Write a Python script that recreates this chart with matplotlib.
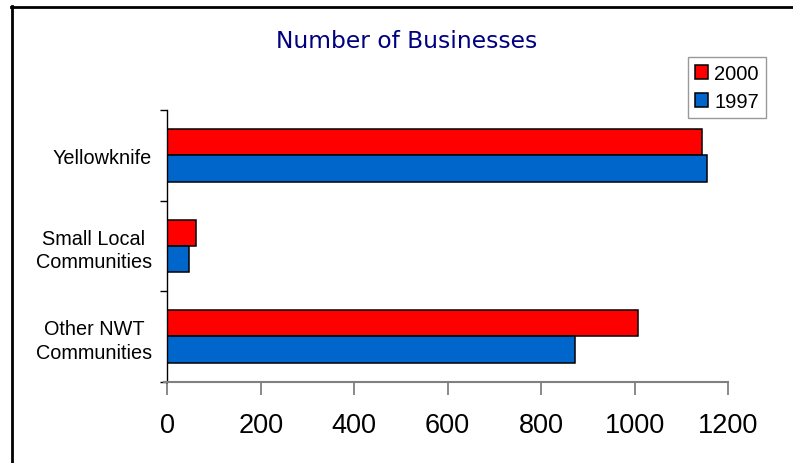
import matplotlib
matplotlib.use('Agg')
import matplotlib.pyplot as plt
from matplotlib import font_manager
from matplotlib.lines import Line2D
import numpy as np

# Data
categories = ['Other NWT\nCommunities', 'Small Local\nCommunities', 'Yellowknife']
values_2000 = [1007, 62, 1144]
values_1997 = [873, 46, 1154]
series_labels = ['2000', '1997']

installed = {f.name for f in font_manager.fontManager.ttflist}
narrow = 'Liberation Sans Narrow' if 'Liberation Sans Narrow' in installed else 'Liberation Sans'
big = narrow != 'Liberation Sans'

W, H = 793, 464
fig = plt.figure(figsize=(W / 100, H / 100), dpi=100)
ax = fig.add_axes([167.3 / W, 1 - 382.7 / H, (728 - 167.3) / W, (382.7 - 111) / H])

y = np.arange(len(categories))
bh = 0.29
ax.barh(y + bh / 2, values_2000, height=bh, color='#FF0000', edgecolor='black',
        linewidth=1.1, label=series_labels[0])
ax.barh(y - bh / 2, values_1997, height=bh, color='#0066CC', edgecolor='black',
        linewidth=1.1, label=series_labels[1])

ax.set_xlim(0, 1200)
ax.set_ylim(-0.5, 2.5)
ax.set_xticks(range(0, 1201, 200))
ax.set_yticks(y)
ax.set_yticklabels(categories, fontfamily=narrow, fontsize=16.5 if big else 14.3,
                   ha='right', multialignment='center', linespacing=1.3)
ax.set_yticks(np.arange(-0.5, 3.0, 1.0), minor=True)

ax.tick_params(axis='y', which='major', length=0, pad=11)
ax.tick_params(axis='y', which='minor', length=5, width=1, color='black', direction='out')
ax.tick_params(axis='x', length=9, width=1.3, color='#808080', pad=13,
               labelsize=22 if big else 19.5)
for lab in ax.get_xticklabels():
    lab.set_fontfamily(narrow)

for s in ['top', 'right']:
    ax.spines[s].set_visible(False)
ax.spines['left'].set_color('black')
ax.spines['left'].set_linewidth(1)
ax.spines['bottom'].set_color('#808080')
ax.spines['bottom'].set_linewidth(1.5)
ax.spines['bottom'].set_bounds(-6, 1200)

fig.text(406.5 / W, 1 - 41 / H, 'Number of Businesses', color='#000080',
         fontsize=16.8, family='DejaVu Sans', ha='center', va='center')

leg = ax.legend(loc='upper right', bbox_to_anchor=(766 / W, 1 - 58 / H),
                bbox_transform=fig.transFigure, frameon=True, fancybox=False,
                edgecolor='#808080',
                prop={'family': narrow, 'size': 16 if big else 14.5},
                handlelength=0.65, handleheight=0.65, handletextpad=0.3,
                borderpad=0.35, labelspacing=0.45, borderaxespad=0)
leg.get_frame().set_linewidth(1)

# outer chart-area border (left and top edges only are visible)
fig.add_artist(Line2D([12 / W, 12 / W], [0, 1 - 7 / H], color='black', lw=2,
                      transform=fig.transFigure))
fig.add_artist(Line2D([11 / W, 1], [1 - 8 / H, 1 - 8 / H], color='black', lw=2,
                      transform=fig.transFigure))

fig.savefig('out.png', dpi=100)
